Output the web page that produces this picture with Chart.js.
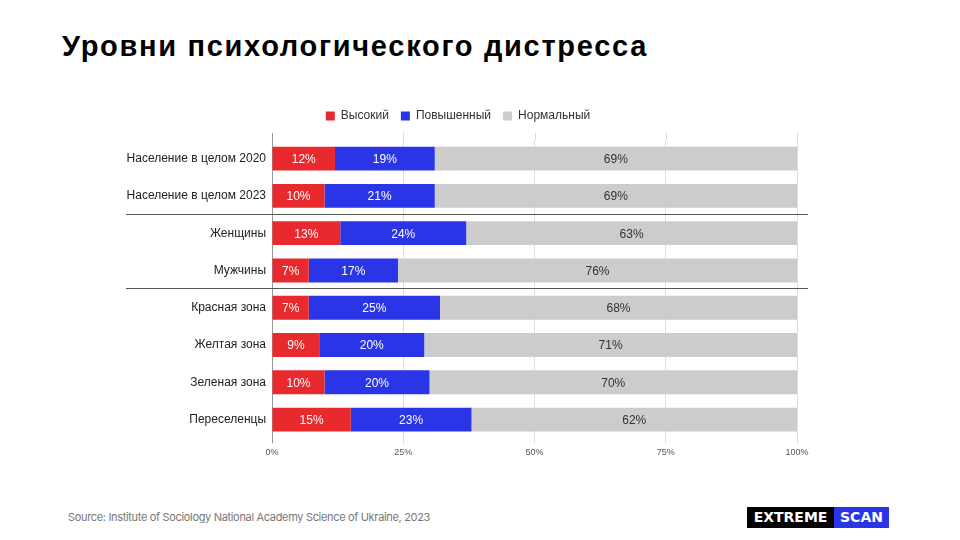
<!DOCTYPE html>
<html>
<head>
<meta charset="utf-8">
<script src="https://cdn.jsdelivr.net/npm/chart.js@4"></script>
<style>
  html, body { margin: 0; padding: 0; background: #fff; }
  body { width: 960px; height: 540px; position: relative; overflow: hidden; font-family: "Liberation Sans", sans-serif; }
  h1 { position: absolute; left: 62px; top: 32px; margin: 0; font: bold 29px/29px "Liberation Sans", Arial, sans-serif; letter-spacing: 1.7px; color: #000; white-space: nowrap; }
  #wrap { position: absolute; left: 0; top: 94px; width: 960px; height: 368px; }
  .source { position: absolute; left: 68px; top: 510px; font: 11px Inter, sans-serif; letter-spacing: -0.33px; color: #777; }
  .logo { position: absolute; left: 747px; top: 507px; height: 21px; display: flex; font: bold 14px "DejaVu Sans", sans-serif; color: #fff; line-height: 21px; }
  .logo span { display: block; text-align: center; }
  .logo .a { background: #000; width: 87px; }
  .logo .b { background: #2b35e8; width: 55px; }
</style>
</head>
<body>
<h1>Уровни психологического дистресса</h1>
<div id="wrap"><canvas id="chart"></canvas></div>
<div class="source">Source: Institute of Sociology National Academy Science of Ukraine, 2023</div>
<div class="logo"><span class="a">EXTREME</span><span class="b">SCAN</span></div>

<script>
// --- data ---
const categories = [
    'Население в целом 2020',
    'Население в целом 2023',
    'Женщины',
    'Мужчины',
    'Красная зона',
    'Желтая зона',
    'Зеленая зона',
    'Переселенцы'
];
const highValues = [12, 10, 13, 7, 7, 9, 10, 15];
const elevatedValues = [19, 21, 24, 17, 25, 20, 20, 23];
const normalValues = [69, 69, 63, 76, 68, 71, 70, 62];
const tickValues = [0, 25, 50, 75, 100];
const groupBreaks = [1, 3]; // separator after these category indexes

const colors = {
    red: '#e8292e',
    blue: '#2b35e8',
    grey: '#cccccc',
    text: '#333333',
    grid: '#dddddd'
};

const FONT = '"Liberation Sans", Arial, sans-serif';

// labels inside each bar segment
const segmentLabels = {
    id: 'segmentLabels',
    afterDatasetsDraw(chart) {
        const ctx = chart.ctx;
        ctx.save();
        ctx.font = '12px ' + FONT;
        ctx.textAlign = 'center';
        ctx.textBaseline = 'middle';
        chart.data.datasets.forEach((ds, i) => {
            const meta = chart.getDatasetMeta(i);
            meta.data.forEach((bar, j) => {
                const cx = (bar.x + bar.base) / 2;
                ctx.fillStyle = i === 2 ? colors.text : '#ffffff';
                ctx.fillText(ds.data[j] + '%', cx, bar.y + 1);
            });
        });
        ctx.restore();
    }
};

// dark lines between groups of rows, grid stubs above the plot
const groupLines = {
    id: 'groupLines',
    beforeDatasetsDraw(chart) {
        const x = chart.scales.x;
        const top = chart.chartArea.top;
        const ctx = chart.ctx;
        ctx.save();
        ctx.lineWidth = 1;
        tickValues.forEach((v, i) => {
            const px = Math.round(x.getPixelForValue(v)) + 0.5;
            ctx.strokeStyle = i === 0 ? '#999999' : colors.grid;
            ctx.beginPath();
            ctx.moveTo(px, top - 7);
            ctx.lineTo(px, top);
            ctx.stroke();
        });
        ctx.restore();
    },
    afterDraw(chart) {
        const y = chart.scales.y;
        const ctx = chart.ctx;
        ctx.save();
        ctx.strokeStyle = '#555555';
        ctx.lineWidth = 1;
        groupBreaks.forEach(idx => {
            const py = Math.round((y.getPixelForValue(idx) + y.getPixelForValue(idx + 1)) / 2) - 0.5;
            ctx.beginPath();
            ctx.moveTo(126, py);
            ctx.lineTo(808, py);
            ctx.stroke();
        });
        ctx.restore();
    }
};

// a bit more room under the legend
const legendGap = {
    id: 'legendGap',
    beforeInit(chart) {
        const fit = chart.legend.fit;
        chart.legend.fit = function () {
            fit.bind(chart.legend)();
            this.height += 8;
        };
    }
};

new Chart(document.getElementById('chart'), {
    type: 'bar',
    data: {
        labels: categories,
        datasets: [
            { label: 'Высокий', data: highValues, backgroundColor: colors.red },
            { label: 'Повышенный', data: elevatedValues, backgroundColor: colors.blue },
            { label: 'Нормальный', data: normalValues, backgroundColor: colors.grey }
        ]
    },
    options: {
        indexAxis: 'y',
        responsive: true,
        maintainAspectRatio: false,
        animation: false,
        layout: { padding: { left: 119, right: 163, top: 4, bottom: 0 } },
        datasets: { bar: { barPercentage: 0.64, categoryPercentage: 1 } },
        scales: {
            x: {
                stacked: true,
                min: 0,
                max: 100,
                afterBuildTicks(scale) { scale.ticks = tickValues.map(v => ({ value: v })); },
                ticks: {
                    font: { size: 9, family: FONT },
                    color: '#555555',
                    padding: 4,
                    callback: v => v + '%'
                },
                grid: {
                    color: ctx => ctx.index === 0 ? '#999999' : colors.grid,
                    tickLength: 5
                },
                border: { display: false }
            },
            y: {
                stacked: true,
                afterFit(scale) { scale.width = 153; },
                ticks: {
                    font: { size: 12, family: FONT },
                    color: '#222222',
                    padding: 6
                },
                grid: { display: false, drawTicks: false },
                border: { color: '#999999' }
            }
        },
        plugins: {
            legend: {
                position: 'top',
                labels: {
                    boxWidth: 9,
                    boxHeight: 9,
                    padding: 12,
                    color: '#333333',
                    font: { size: 12, family: FONT }
                }
            },
            tooltip: { enabled: false }
        }
    },
    plugins: [segmentLabels, groupLines, legendGap]
});
</script>
</body>
</html>
